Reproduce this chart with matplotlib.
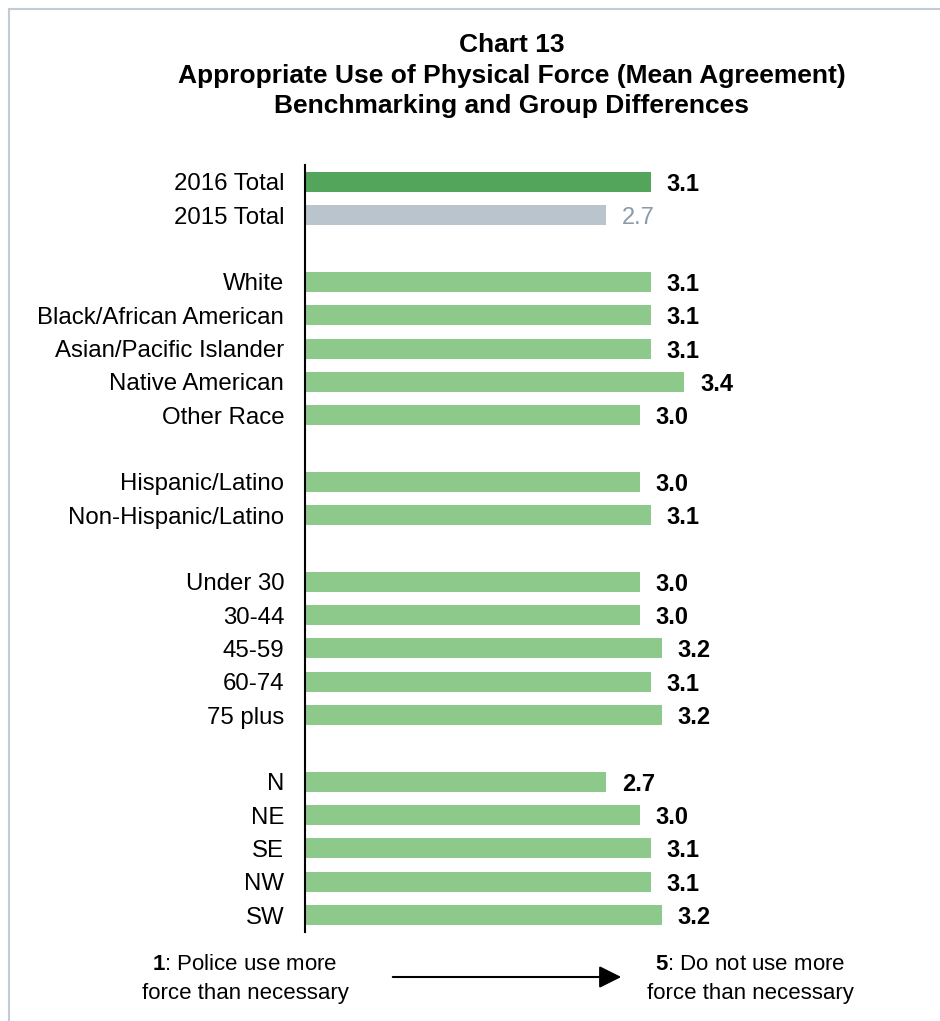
import matplotlib
matplotlib.use("Agg")
import matplotlib.pyplot as plt
from matplotlib.patches import Rectangle, FancyArrowPatch

plt.rcParams["font.family"] = ["Liberation Sans", "DejaVu Sans"]
plt.rcParams["mathtext.fontset"] = "custom"
plt.rcParams["mathtext.rm"] = "Liberation Sans"
plt.rcParams["mathtext.bf"] = "Liberation Sans:bold"

# Groups of bars, blank rows between groups
groups = [
    ["2016 Total", "2015 Total"],
    ["White", "Black/African American", "Asian/Pacific Islander",
     "Native American", "Other Race"],
    ["Hispanic/Latino", "Non-Hispanic/Latino"],
    ["Under 30", "30-44", "45-59", "60-74", "75 plus"],
    ["N", "NE", "SE", "NW", "SW"],
]
group_values = [
    [3.1, 2.7],
    [3.1, 3.1, 3.1, 3.4, 3.0],
    [3.0, 3.1],
    [3.0, 3.0, 3.2, 3.1, 3.2],
    [2.7, 3.0, 3.1, 3.1, 3.2],
]

DARK_GREEN = "#52a55a"
LIGHT_GREEN = "#8cc98a"
GREY_BAR = "#b9c4cc"
GREY_TEXT = "#8a9aa8"

labels, values, positions = [], [], []
row = 0
for g_labels, g_vals in zip(groups, group_values):
    for lab, v in zip(g_labels, g_vals):
        labels.append(lab)
        values.append(v)
        positions.append(row)
        row += 1
    row += 1
last_row = max(positions)

colors = [LIGHT_GREEN] * len(values)
colors[0] = DARK_GREEN
colors[1] = GREY_BAR

W, H = 940, 1021
fig = plt.figure(figsize=(W / 100, H / 100), dpi=100)

# light frame around the chart
fig.add_artist(Rectangle((9 / W, -0.1), 1.2, 1 - 9 / H + 0.1, transform=fig.transFigure,
                         fill=False, edgecolor="#c3ccd4", linewidth=1.5))

top, bottom = 165.3, 931.7
left, right = 305, 863
ax = fig.add_axes([left / W, 1 - bottom / H, (right - left) / W, (bottom - top) / H])
ax.barh(positions, values, height=0.6, color=colors, zorder=2)
ax.set_xlim(0, 5)
ax.set_ylim(last_row + 0.5, -0.5)

for i, (p, v) in enumerate(zip(positions, values)):
    if i == 1:
        ax.text(v + 0.14, p, f"{v:.1f}", va="center_baseline", ha="left",
                fontsize=17, color=GREY_TEXT)
    else:
        ax.text(v + 0.14, p, f"{v:.1f}", va="center_baseline", ha="left",
                fontsize=17, color="black", fontweight="bold")

ax.set_yticks(positions)
ax.set_yticklabels(labels, fontsize=17.3)
ax.tick_params(axis="y", length=0, pad=15)
ax.set_xticks([])
for s in ["top", "right", "bottom"]:
    ax.spines[s].set_visible(False)
ax.spines["left"].set_linewidth(1.5)

# title
title_lines = ["Chart 13",
               "Appropriate Use of Physical Force (Mean Agreement)",
               "Benchmarking and Group Differences"]
for k, line in enumerate(title_lines):
    fig.text(512 / W, 1 - (45 + 30.5 * k) / H, line, ha="center", va="center",
             fontsize=19, fontweight="bold")

# scale note at the bottom
fig.text(245 / W, 1 - 964 / H, r"$\bf{1}$: Police use more", ha="center", va="center",
         fontsize=16)
fig.text(245 / W, 1 - 993 / H, "force than necessary", ha="center", va="center",
         fontsize=16)
fig.text(750 / W, 1 - 964 / H, r"$\bf{5}$: Do not use more", ha="center", va="center",
         fontsize=16)
fig.text(750 / W, 1 - 993 / H, "force than necessary", ha="center", va="center",
         fontsize=16)
fig.add_artist(FancyArrowPatch(
    (390 / W, 1 - 977 / H), (624 / W, 1 - 977 / H), transform=fig.transFigure,
    arrowstyle="-|>,head_length=9,head_width=4.5", mutation_scale=1.5,
    color="black", linewidth=1.5))

fig.savefig("out.png", dpi=100)
